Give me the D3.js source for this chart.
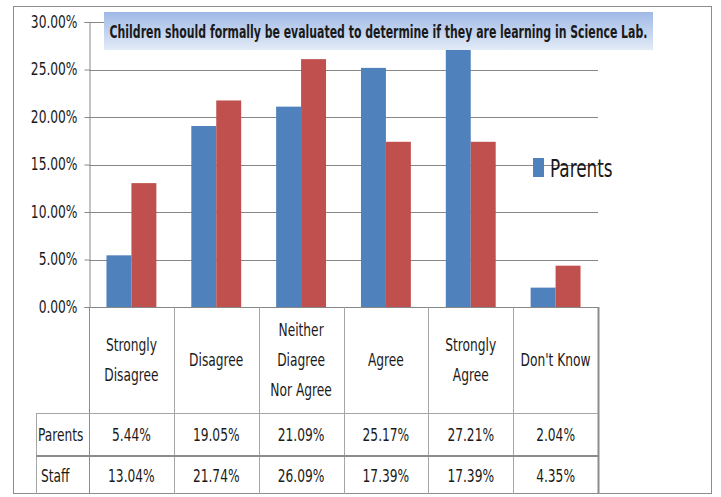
<!DOCTYPE html>
<html>
<head>
<meta charset="utf-8">
<script src="https://cdn.jsdelivr.net/npm/d3@7"></script>
<style>
  html, body { margin: 0; padding: 0; background: #fff; }
  svg { display: block; }
  text { font-family: "DejaVu Sans Condensed", "Liberation Sans Narrow", sans-serif; fill: #1a1a1a; }
</style>
</head>
<body>
<svg id="chart" width="721" height="497"></svg>
<script>
const categories = ["Strongly Disagree", "Disagree", "Neither Diagree Nor Agree", "Agree", "Strongly Agree", "Don't Know"];
const categoryLines = [["Strongly", "Disagree"], ["Disagree"], ["Neither", "Diagree", "Nor Agree"], ["Agree"], ["Strongly", "Agree"], ["Don't Know"]];
const seriesNames = ["Parents", "Staff"];
const parentsValues = [5.44, 19.05, 21.09, 25.17, 27.21, 2.04];
const staffValues = [13.04, 21.74, 26.09, 17.39, 17.39, 4.35];
const yTicks = [0, 5, 10, 15, 20, 25, 30];
const titleText = "Children should formally be evaluated to determine if they are learning in Science Lab.";

const colors = { Parents: "#4F81BD", Staff: "#C0504D" };
const seriesValues = { Parents: parentsValues, Staff: staffValues };

const svg = d3.select("#chart");

// narrow the glyphs horizontally to mimic a condensed face
function condense(sel, f) {
  sel.each(function () {
    const w = this.getComputedTextLength();
    d3.select(this).attr("textLength", w * f).attr("lengthAdjust", "spacingAndGlyphs");
  });
}

// outer border
svg.append("rect").attr("x", 13.5).attr("y", 6.5).attr("width", 698).attr("height", 487)
  .attr("fill", "#fff").attr("stroke", "#8c8c8c").attr("stroke-width", 1);

const x = d3.scaleBand().domain(categories).range([89, 598]).paddingInner(0).paddingOuter(0);
const xs = d3.scaleBand().domain(seriesNames).range([0, x.bandwidth()]).paddingInner(0).paddingOuter(0.7);
const y = d3.scaleLinear().domain([0, 30]).range([307, 22]);

// gridlines (incl. baseline)
svg.append("g").selectAll("line").data(yTicks).join("line")
  .attr("x1", 89).attr("x2", 598)
  .attr("y1", d => Math.round(y(d)) + 0.5).attr("y2", d => Math.round(y(d)) + 0.5)
  .attr("stroke", "#878787").attr("stroke-width", 1);

// y axis
const yAxis = d3.axisLeft(y).tickValues(yTicks).tickSize(5).tickPadding(7)
  .tickFormat(d => d.toFixed(2) + "%");
const gy = svg.append("g").attr("transform", "translate(89.5,0)").call(yAxis);
gy.select(".domain").attr("stroke", "#878787");
gy.selectAll(".tick line").attr("stroke", "#878787");
gy.selectAll(".tick text").attr("font-size", 17)
  .attr("font-family", "'DejaVu Sans Condensed', sans-serif")
  .attr("fill", "#1a1a1a").call(condense, 0.8);

// bars
const groups = svg.append("g").selectAll("g").data(categories).join("g")
  .attr("transform", d => `translate(${x(d)},0)`);
groups.selectAll("rect").data((d, i) => seriesNames.map(s => ({ s, v: seriesValues[s][i] }))).join("rect")
  .attr("x", d => xs(d.s))
  .attr("width", xs.bandwidth())
  .attr("y", d => y(d.v))
  .attr("height", d => y(0) - y(d.v))
  .attr("fill", d => colors[d.s]);

// data table
const tblTop = 307, catBottom = 413, rowMid = 456, tblBottom = 494, tblLeft = 36;
const tbl = svg.append("g");
const lineColor = "#a6a6a6";
const colEdges = categories.map(c => x(c)).concat([x.range()[1]]);
tbl.selectAll("line.v").data(colEdges).join("line").attr("class", "v")
  .attr("x1", d => Math.round(d) + 0.5).attr("x2", d => Math.round(d) + 0.5)
  .attr("y1", tblTop).attr("y2", tblBottom)
  .attr("stroke", (d, i) => i === 0 || i === colEdges.length - 1 ? "#8c8c8c" : lineColor)
  .attr("stroke-width", (d, i) => i === colEdges.length - 1 ? 2 : 1);
tbl.append("line").attr("x1", tblLeft + 0.5).attr("x2", tblLeft + 0.5).attr("y1", catBottom).attr("y2", tblBottom)
  .attr("stroke", lineColor);
tbl.append("line").attr("x1", tblLeft).attr("x2", 598).attr("y1", catBottom + 0.5).attr("y2", catBottom + 0.5)
  .attr("stroke", lineColor);
tbl.append("line").attr("x1", tblLeft).attr("x2", 598).attr("y1", rowMid).attr("y2", rowMid)
  .attr("stroke", "#8c8c8c").attr("stroke-width", 2);

// category labels
const catG = tbl.selectAll("g.cat").data(categories).join("g").attr("class", "cat")
  .attr("transform", d => `translate(${x(d) + x.bandwidth() / 2},${(tblTop + catBottom) / 2})`);
catG.each(function (d, i) {
  const lines = categoryLines[i];
  const lh = 30;
  d3.select(this).selectAll("text").data(lines).join("text")
    .attr("text-anchor", "middle")
    .attr("y", (l, j) => (j - (lines.length - 1) / 2) * lh)
    .attr("dy", "0.35em")
    .attr("font-size", 17)
    .text(l => l)
    .call(condense, 0.8);
});

// series rows
const rowCenters = { Parents: (catBottom + rowMid) / 2 + 1, Staff: (rowMid + tblBottom) / 2 + 1 };
seriesNames.forEach(s => {
  tbl.append("text").attr("x", s === "Parents" ? 38 : 41).attr("y", rowCenters[s]).attr("dy", "0.35em")
    .attr("font-size", 17).text(s).call(condense, 0.8);
  tbl.selectAll("text.v" + s).data(seriesValues[s]).join("text").attr("class", "v" + s)
    .attr("x", (d, i) => x(categories[i]) + x.bandwidth() / 2)
    .attr("y", rowCenters[s]).attr("dy", "0.35em")
    .attr("text-anchor", "middle").attr("font-size", 17)
    .text(d => d.toFixed(2) + "%")
    .call(condense, 0.8);
});

// legend (only Parents visible)
const lg = svg.append("g").attr("transform", "translate(533,158)");
lg.append("rect").attr("width", 11).attr("height", 19).attr("fill", colors.Parents);
lg.append("text").attr("x", 17).attr("y", 10).attr("dy", "0.35em").attr("font-size", 25)
  .text(seriesNames[0]).call(condense, 0.75);

// title box
const defs = svg.append("defs");
const grad = defs.append("linearGradient").attr("id", "tg").attr("x1", 0).attr("y1", 0).attr("x2", 0).attr("y2", 1);
grad.append("stop").attr("offset", "0%").attr("stop-color", "#9fb9e6");
grad.append("stop").attr("offset", "100%").attr("stop-color", "#e3ebf7");
svg.append("rect").attr("x", 104).attr("y", 12).attr("width", 549).attr("height", 38).attr("fill", "url(#tg)");
const tg = svg.append("g");
const tt = tg.append("text").attr("x", 0).attr("y", 0).attr("text-anchor", "middle")
  .attr("font-size", 17).attr("font-weight", "bold")
  .text(titleText);
const tw = tt.node().getComputedTextLength();
tg.attr("transform", `translate(378.5,38) scale(${538 / tw},1)`);
</script>
</body>
</html>
